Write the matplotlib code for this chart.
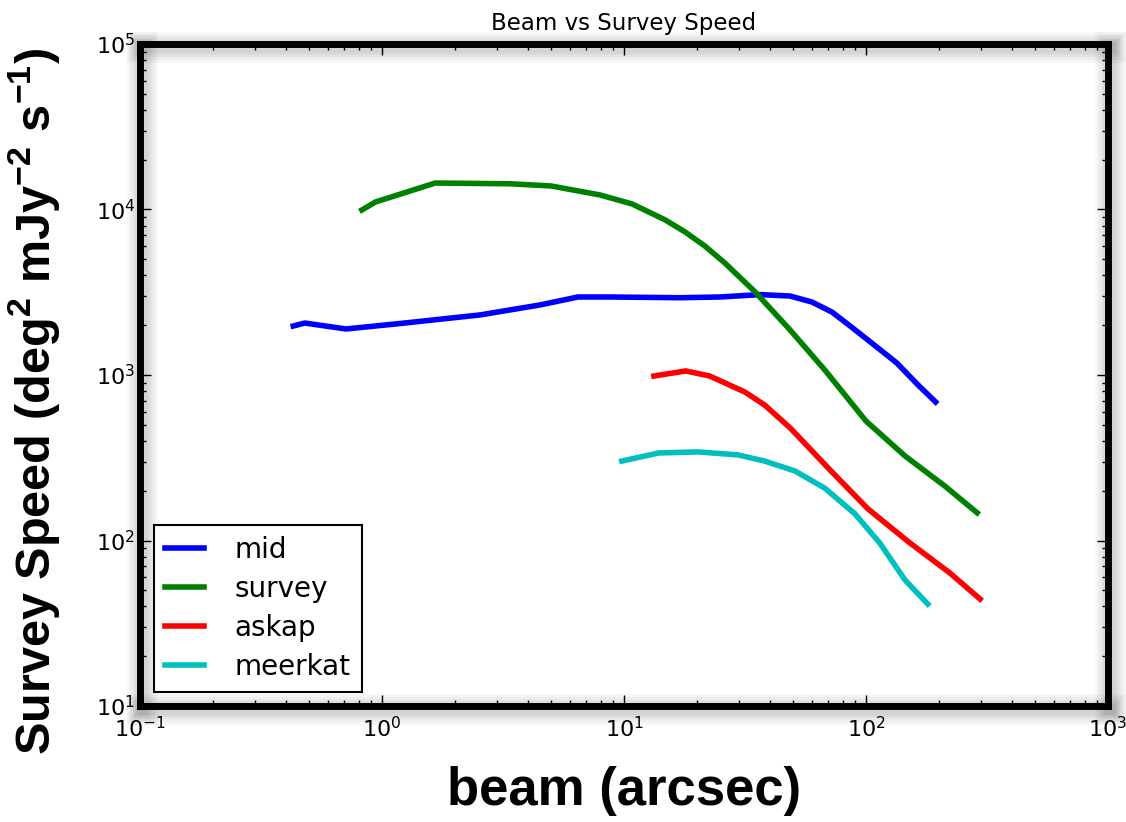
import matplotlib
matplotlib.use("Agg")
import matplotlib.pyplot as plt
import matplotlib.patheffects as pe
from matplotlib.ticker import LogLocator

# beam (arcsec) vs survey speed
mid_beam = [0.43, 0.48, 0.71, 1.2, 2.54, 4.5, 6.45, 8.7, 17, 24.9, 36.6, 48.6, 59.8, 72.4, 86, 102, 134, 164, 194]
mid_speed = [1977, 2060, 1897, 2050, 2306, 2650, 2960, 2960, 2930, 2960, 3060, 3000, 2760, 2400, 1977, 1625, 1183, 871, 687]

survey_beam = [0.826, 0.94, 1.66, 3.38, 5.0, 7.96, 10.8, 14.8, 17.9, 21.6, 26.1, 34.8, 48.6, 67.6, 100, 145, 212, 288]
survey_speed = [9930, 11100, 14450, 14300, 13870, 12240, 10800, 8650, 7310, 6010, 4750, 3180, 1870, 1072, 527, 324, 213, 147]

askap_beam = [13.3, 18.0, 22.6, 31.6, 38.1, 48.6, 71, 102, 152, 222, 296]
askap_speed = [986, 1058, 986, 789, 659, 479, 267, 155, 96.6, 63.7, 44.3]

meerkat_beam = [9.8, 13.9, 20.2, 29.6, 38.1, 50.9, 67.6, 90, 114, 145, 180]
meerkat_speed = [302, 338, 343, 329, 302, 263, 207, 145, 96.6, 57.7, 41.3]

fig = plt.figure(figsize=(11.26, 8.22), dpi=100)
ax = fig.add_axes([0.1243, 0.1411, 0.8597, 0.8054])

ax.plot(mid_beam, mid_speed, color='b', lw=4, label='mid')
ax.plot(survey_beam, survey_speed, color='g', lw=4, label='survey')
ax.plot(askap_beam, askap_speed, color='r', lw=4, label='askap')
ax.plot(meerkat_beam, meerkat_speed, color='c', lw=4, label='meerkat')

ax.set_xscale('log')
ax.set_yscale('log')
ax.set_xlim(0.1, 1000)
ax.set_ylim(10, 1e5)

ax.xaxis.set_major_locator(LogLocator(base=10, numticks=10))
ax.yaxis.set_major_locator(LogLocator(base=10, numticks=10))
ax.tick_params(which='both', direction='in', top=True, right=True, labelsize=16)
ax.tick_params(which='major', length=8, width=1)
ax.tick_params(which='minor', length=4, width=1)
ax.tick_params(axis='x', pad=7)

# thick frame with a soft, blurred-looking shadow (stacked faint strokes)
shadow = [pe.SimpleLineShadow(offset=(1.5, -2), shadow_color='black', alpha=0.035, linewidth=w)
          for w in (22, 18, 14, 11, 8)]
for s in ax.spines.values():
    s.set_linewidth(5)
    s.set_path_effects(shadow + [pe.Normal()])

ax.set_title("Beam vs Survey Speed", fontsize=16.5, pad=10)
ax.set_xlabel("beam (arcsec)", fontsize=38, fontweight='bold', family='Liberation Sans', labelpad=18)
ax.set_ylabel("Survey Speed (deg$^\\mathregular{2}$ mJy$^\\mathregular{-2}$ s$^\\mathregular{-1}$)",
              fontsize=35, fontweight='bold', family='Liberation Sans')
ax.yaxis.set_label_coords(-0.079, 0.46)

leg = ax.legend(loc='lower left', fontsize=20, fancybox=False, framealpha=1,
                handlelength=1.4, handletextpad=1.1, borderpad=0.4, labelspacing=0.4)
leg.get_frame().set_edgecolor('black')
leg.get_frame().set_linewidth(1.5)

fig.savefig("out.png", dpi=100)
